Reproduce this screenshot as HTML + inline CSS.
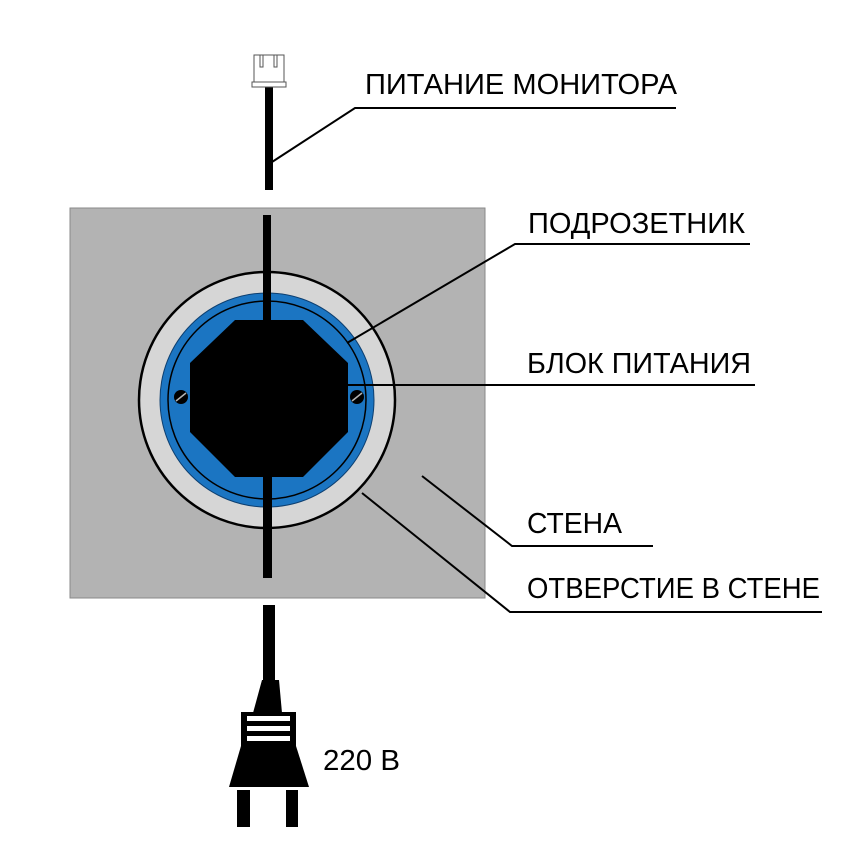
<!DOCTYPE html>
<html><head><meta charset="utf-8"><style>html,body{margin:0;padding:0;background:#fff}</style></head>
<body>
<svg width="861" height="861" viewBox="0 0 861 861" xmlns="http://www.w3.org/2000/svg" font-family="Liberation Sans, sans-serif">
<rect width="861" height="861" fill="#fff"/>
<!-- wall -->
<rect x="70" y="208" width="415" height="390" fill="#b3b3b3" stroke="#8a8a8a" stroke-width="1"/>
<!-- hole -->
<circle cx="267" cy="400" r="128" fill="#d6d6d6" stroke="#000" stroke-width="2.5"/>
<circle cx="267" cy="400" r="107" fill="#1b75c2" stroke="#0d3f70" stroke-width="1"/>
<circle cx="267" cy="400" r="99" fill="none" stroke="#000" stroke-width="1.5"/>
<!-- octagon -->
<polygon points="235,320 303,320 348,363 348,432 303,477 235,477 190,432 190,363" fill="#000"/>
<!-- screws -->
<circle cx="181" cy="397" r="7" fill="#000"/>
<line x1="176" y1="401" x2="186" y2="393" stroke="#b3b3b3" stroke-width="1.5"/>
<circle cx="357" cy="397" r="7" fill="#000"/>
<line x1="352" y1="401" x2="362" y2="393" stroke="#b3b3b3" stroke-width="1.5"/>
<!-- cables -->
<rect x="263" y="215" width="8" height="110" fill="#000"/>
<rect x="263" y="470" width="9" height="108" fill="#000"/>
<rect x="265" y="87" width="8" height="103" fill="#000"/>
<rect x="263" y="605" width="12" height="78" fill="#000"/>
<!-- connector -->
<rect x="254" y="55" width="30" height="29" fill="#fff" stroke="#555" stroke-width="1"/>
<rect x="252" y="82" width="34" height="5" fill="#fff" stroke="#555" stroke-width="1"/>
<path d="M260 55 v12 h3 v-12 M274 55 v12 h3 v-12" fill="none" stroke="#555" stroke-width="1"/>
<!-- plug -->
<polygon points="262,680 279,680 282,713 253,713" fill="#000"/>
<rect x="241" y="712" width="55" height="34" fill="#000"/>
<rect x="247" y="716" width="43" height="5" fill="#fff"/>
<rect x="247" y="726" width="43" height="5" fill="#fff"/>
<rect x="247" y="736" width="43" height="5" fill="#fff"/>
<polygon points="241,746 296,746 309,787 229,787" fill="#000"/>
<rect x="237" y="790" width="13" height="37" fill="#000"/>
<rect x="286" y="790" width="12" height="37" fill="#000"/>
<!-- leaders -->
<g stroke="#000" stroke-width="2" fill="none">
<polyline points="272,162 355,108 676,108"/>
<polyline points="347,343 515,244 750,244"/>
<polyline points="348,385 755,385"/>
<polyline points="422,476 512,546 653,546"/>
<polyline points="362,493 510,612 822,612"/>
</g>
<g font-size="29" fill="#000">
<text x="365" y="94" textLength="312" lengthAdjust="spacingAndGlyphs">ПИТАНИЕ МОНИТОРА</text>
<text x="528" y="233" textLength="217" lengthAdjust="spacingAndGlyphs">ПОДРОЗЕТНИК</text>
<text x="527" y="373" textLength="224" lengthAdjust="spacingAndGlyphs">БЛОК ПИТАНИЯ</text>
<text x="527" y="533" textLength="95" lengthAdjust="spacingAndGlyphs">СТЕНА</text>
<text x="527" y="598" textLength="293" lengthAdjust="spacingAndGlyphs">ОТВЕРСТИЕ В СТЕНЕ</text>
<text x="323" y="770" textLength="77" lengthAdjust="spacingAndGlyphs">220 В</text>
</g>
</svg>
</body></html>
